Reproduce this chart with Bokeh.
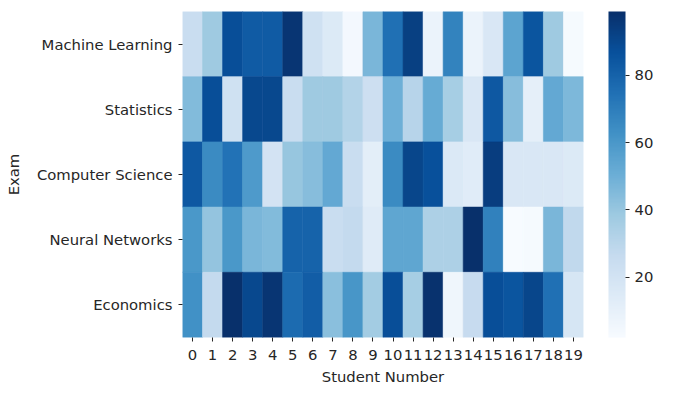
import numpy as np
from bokeh.plotting import figure
from bokeh.models import ColumnDataSource, LinearColorMapper, ColorBar, FixedTicker
from bokeh.transform import transform
from bokeh.palettes import Blues9
from bokeh.embed import file_html
from bokeh.resources import INLINE

students = [str(i) for i in range(20)]
exams = ["Machine Learning", "Statistics", "Computer Science", "Neural Networks", "Economics"]

machine_learning = [25, 38, 88, 83, 83, 97, 22, 15, 4, 47, 75, 93, 8, 68, 8, 17, 55, 85, 38, 3]
statistics = [45, 88, 22, 90, 90, 25, 38, 38, 32, 23, 50, 31, 52, 36, 17, 84, 44, 11, 53, 46]
computer_science = [84, 65, 74, 59, 20, 40, 44, 53, 25, 12, 65, 91, 87, 16, 13, 94, 17, 17, 17, 15]
neural_networks = [60, 41, 60, 47, 45, 80, 80, 25, 27, 14, 54, 54, 34, 34, 99, 69, 2, 3, 47, 28]
economics = [63, 27, 99, 90, 97, 77, 82, 43, 61, 37, 88, 36, 98, 6, 26, 88, 85, 91, 75, 18]

rows = [machine_learning, statistics, computer_science, neural_networks, economics]
colorbar_ticks = [20, 40, 60, 80]

xs, ys, vals = [], [], []
for exam, row in zip(exams, rows):
    for s, v in zip(students, row):
        xs.append(s)
        ys.append(exam)
        vals.append(v)
src = ColumnDataSource(dict(x=xs, y=ys, v=vals))

# Matplotlib "Blues" colormap: linear interpolation of the 9 ColorBrewer colours
base = list(reversed(Blues9))
rgb = np.array([[int(c[i:i + 2], 16) for i in (1, 3, 5)] for c in base], dtype=float)
pos = np.linspace(0, 1, len(base))
t = np.linspace(0, 1, 256)
pal = []
for tt in t:
    r = np.interp(tt, pos, rgb[:, 0]); g = np.interp(tt, pos, rgb[:, 1]); b = np.interp(tt, pos, rgb[:, 2])
    pal.append("#%02x%02x%02x" % (int(round(r)), int(round(g)), int(round(b))))

mapper = LinearColorMapper(palette=pal, low=min(vals), high=max(vals))

FONT = "DejaVu Sans"
TXT = "#262626"
FS = "14.8px"

p = figure(x_range=students, y_range=list(reversed(exams)),
           frame_width=401, frame_height=326,
           min_border_left=182, min_border_right=85, min_border_top=11, min_border_bottom=51,
           output_backend="svg", toolbar_location=None, tools="")
p.rect(x="x", y="y", width=1, height=1, source=src,
       fill_color=transform("v", mapper), line_color=transform("v", mapper), line_width=0.6)

p.grid.visible = False
p.outline_line_color = None
p.background_fill_color = "white"
for ax in (p.xaxis[0], p.yaxis[0]):
    ax.axis_line_color = None
    ax.major_tick_in = 0
    ax.major_tick_out = 4
    ax.major_tick_line_color = TXT
    ax.major_label_text_font = FONT
    ax.major_label_text_font_size = FS
    ax.major_label_text_color = TXT
    ax.axis_label_text_font = FONT
    ax.axis_label_text_font_size = FS
    ax.axis_label_text_font_style = "normal"
    ax.axis_label_text_color = TXT
p.xaxis.axis_label = "Student Number"
p.yaxis.axis_label = "Exam"
p.xaxis.major_label_standoff = 8
p.yaxis.major_label_standoff = 6
p.xaxis.axis_label_standoff = 5
p.yaxis.axis_label_standoff = 12

cb = ColorBar(color_mapper=mapper, ticker=FixedTicker(ticks=colorbar_ticks),
              width=17, height=326, padding=0, margin=0,
              major_tick_in=0, major_tick_out=4, major_tick_line_color=TXT,
              major_label_text_font=FONT, major_label_text_font_size=FS,
              major_label_text_color=TXT, label_standoff=5,
              bar_line_color=None, border_line_color=None,
              background_fill_alpha=0, location=(426, 0))
p.add_layout(cb, "center")

open("out.html", "w").write(file_html(p, INLINE))
